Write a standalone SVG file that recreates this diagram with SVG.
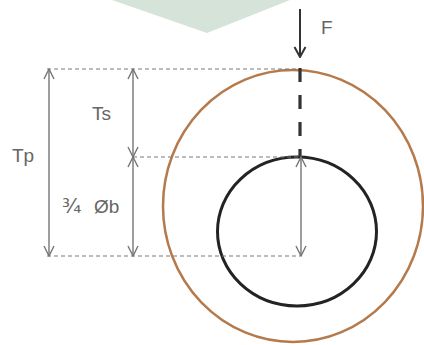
<svg xmlns="http://www.w3.org/2000/svg" width="424" height="345" viewBox="0 0 424 345">
<style>
.dim{stroke:#767676;stroke-width:1.4;fill:none}
.dash{stroke:#7a7a7a;stroke-width:1.2;stroke-dasharray:4 3;fill:none}
.lbl{font-family:"Liberation Sans",Arial,sans-serif;font-size:19px;fill:#656565}
</style>
<defs>
<marker id="ah" viewBox="0 0 12 12" refX="11" refY="6" markerWidth="12" markerHeight="12" markerUnits="userSpaceOnUse" orient="auto-start-reverse">
<path d="M1,1 L11,6 L1,11" fill="none" stroke="#767676" stroke-width="1.4"/>
</marker>
<marker id="ahF" viewBox="0 0 12 14" refX="11" refY="7" markerWidth="12" markerHeight="14" markerUnits="userSpaceOnUse" orient="auto">
<path d="M1,1.5 L11,7 L1,12.5" fill="none" stroke="#333" stroke-width="2"/>
</marker>
</defs>
<rect width="424" height="345" fill="#fff"/>
<g id="plate">
<polygon points="112,0 290,0 207,33" fill="#d5e3d9"/>
</g>
<g id="outer-circle">
<ellipse cx="293" cy="206" rx="130" ry="136" fill="none" stroke="#b57a4c" stroke-width="2.5"/>
</g>
<g id="inner-circle">
<ellipse cx="297" cy="231.5" rx="79.5" ry="74.5" fill="none" stroke="#232323" stroke-width="3"/>
</g>
<g id="connectors">
<line class="dash" x1="47" y1="69" x2="300" y2="69"/>
<line class="dash" x1="133" y1="157" x2="300" y2="157"/>
<line class="dash" x1="47" y1="256" x2="300" y2="256"/>
<line x1="300" y1="68" x2="300" y2="157" stroke="#333" stroke-width="3.2" stroke-dasharray="14 13"/>
<line x1="300" y1="9" x2="300" y2="57" stroke="#333" stroke-width="2" marker-end="url(#ahF)"/>
<line class="dim" x1="49" y1="69" x2="49" y2="256" marker-start="url(#ah)" marker-end="url(#ah)"/>
<line class="dim" x1="133" y1="69" x2="133" y2="157" marker-start="url(#ah)" marker-end="url(#ah)"/>
<line class="dim" x1="133" y1="157" x2="133" y2="256" marker-start="url(#ah)" marker-end="url(#ah)"/>
<line class="dim" x1="301" y1="157" x2="301" y2="256" marker-start="url(#ah)" marker-end="url(#ah)"/>
</g>
<g id="labels">
<text class="lbl" x="321" y="34">F</text>
<text class="lbl" x="12" y="162">Tp</text>
<text class="lbl" x="92" y="120">Ts</text>
<text class="lbl" y="213"><tspan x="62" style="font-family:'DejaVu Sans',sans-serif;font-size:20px">¾</tspan><tspan x="94">Øb</tspan></text>
</g>
</svg>
